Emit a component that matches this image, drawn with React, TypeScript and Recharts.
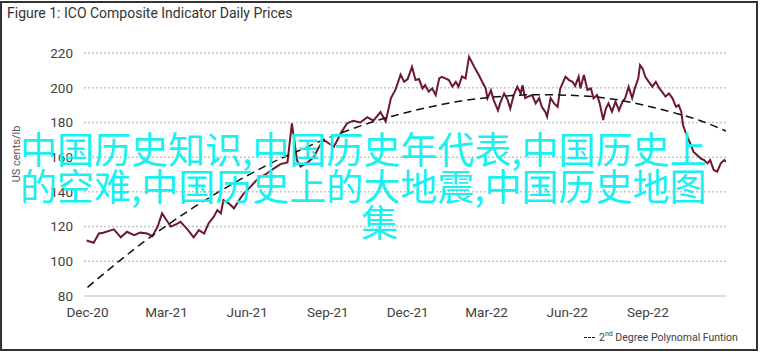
import { LineChart, Line, XAxis, YAxis, CartesianGrid } from 'recharts';

// days counted from 1 Dec 2020
const priceDays = [
  -1, 7, 13, 18, 30, 38, 45, 53, 60, 68, 74, 80, 85, 90, 95, 102, 106, 114, 121, 127,
  133, 138, 144, 148, 152, 155, 161, 167, 173, 178, 186, 195, 203, 211, 220, 228, 233, 239, 243, 251,
  258, 263, 269, 281, 289, 296, 303, 311, 319, 326, 334, 340, 346, 351, 357, 361, 365, 370, 374, 378,
  382, 385, 389, 393, 397, 401, 404, 408, 412, 416, 420, 423, 427, 431, 435, 439, 442, 446, 450, 454,
  456, 460, 463, 468, 471, 475, 479, 482, 486, 490, 494, 496, 499, 503, 507, 511, 515, 518, 522, 524,
  528, 532, 536, 539, 545, 549, 553, 556, 560, 562, 566, 570, 574, 577, 581, 584, 588, 591, 594, 598,
  602, 606, 610, 613, 617, 621, 624, 628, 630, 633, 636, 640, 644, 648, 652, 655, 659, 663, 667, 671,
  674, 677, 679, 683, 688, 691, 695, 699, 703, 707, 710, 714, 718, 722, 726, 728,
];

const prices = [
  112, 110.7, 116, 116.4, 118.4, 113.8, 117, 115, 116.5, 116, 114.5, 120, 127.6, 123.8, 120, 121.5, 122.8, 118.4, 113.8, 118,
  116, 121.8, 125.7, 129.5, 127.6, 135.3, 133.4, 130.5, 135.3, 139, 143, 148, 150, 153, 156, 157, 179.4, 158, 154.5, 157,
  160, 165, 170, 166, 174, 179.5, 181, 180, 183, 181, 186, 180.5, 194, 198.7, 207.5, 203.4, 205, 212, 204.4, 205,
  199.6, 201.5, 197.7, 199.6, 195.8, 205.4, 206.3, 205.4, 204.4, 200.6, 203.4, 200.6, 206.5, 205.4, 217.8, 214, 211, 207.5, 203.4, 199.6,
  193.9, 198.5, 193, 187, 191.8, 196.7, 193, 188, 195.8, 200.6, 196.7, 201.5, 194, 195, 195.8, 191, 194, 189, 186, 183.3,
  194, 191, 189, 199.6, 206.3, 204.4, 203.4, 201, 206.3, 199.6, 207.3, 198.7, 199.6, 193.9, 195.8, 191, 181.4, 188, 191, 186.2,
  192, 187, 192, 193.9, 200.6, 194, 199.6, 205.4, 213, 211, 206.3, 203.4, 200.6, 203.4, 199.6, 197.7, 194.9, 196.7, 193.9, 189,
  190, 186.2, 178.5, 172.7, 167, 163, 161.2, 159.3, 158.3, 156.4, 158.3, 152.6, 151.6, 156.4, 158.3, 157.4,
];

const trendDays = [0, 31, 60, 90, 121, 151, 181, 211, 242, 273, 303, 334, 365, 396, 424, 455, 485, 516, 546, 577, 607, 638, 669, 699, 728];
const trendValues = [85, 98, 109.6, 120.5, 131, 140.4, 149, 157, 164, 170.8, 176.5, 181.7, 185.9, 189.5, 192.2, 194.2, 195.5, 196, 195.7, 194.8, 192.8, 189.5, 185.5, 181, 175];

const tickDays = [0, 90, 182, 274, 365, 455, 547, 639];
const tickLabels = ['Dec-20', 'Mar-21', 'Jun-21', 'Sep-21', 'Dec-21', 'Mar-22', 'Jun-22', 'Sep-22'];
const yTicks = [80, 90, 100, 110, 120, 130, 140, 150, 160, 170, 180, 190, 200, 210, 220];

const priceData = priceDays.map((d, i) => ({ day: d, price: prices[i] }));
const trendData = trendDays.map((d, i) => ({ day: d, trend: trendValues[i] }));

const font = 'Roboto, "Noto Sans", sans-serif';

export default function App() {
  return (
    <div style={{ position: 'absolute', left: 0, top: 0, width: 762, height: 356, background: '#fff', fontFamily: font }}>
      <div style={{ position: 'absolute', left: 0, top: 1, width: 754, height: 346, border: '2px solid #333' }} />
      <div style={{ position: 'absolute', left: 7, top: 5, fontSize: 14, color: '#333' }}>
        Figure 1: ICO Composite Indicator Daily Prices
      </div>
      <LineChart width={762} height={356} margin={{ top: 53, right: 36, bottom: 0, left: 0 }} style={{ position: 'absolute', left: 0, top: 0 }}>
        <CartesianGrid vertical={false} stroke="#c4c4c4" strokeDasharray="2 2" strokeWidth={1.5} />
        <XAxis
          dataKey="day"
          type="number"
          domain={[-4, 728]}
          ticks={tickDays}
          tickFormatter={(v) => tickLabels[tickDays.indexOf(v)]}
          height={60}
          tickLine={false}
          tickMargin={5}
          axisLine={{ stroke: '#d9d9d9', strokeWidth: 1.5 }}
          tick={{ fill: '#404040', fontSize: 13.5, fontFamily: font }}
          allowDataOverflow
        />
        <YAxis
          domain={[80, 220]}
          ticks={yTicks}
          width={84}
          tickLine={false}
          axisLine={false}
          tickMargin={5}
          tick={{ fill: '#404040', fontSize: 13.5, fontFamily: font }}
        />
        <Line data={priceData} dataKey="price" type="linear" stroke="#6e1830" strokeWidth={2} dot={false} isAnimationActive={false} />
        <Line data={trendData} dataKey="trend" type="monotone" stroke="#111" strokeWidth={1.5} strokeDasharray="8 5" dot={false} isAnimationActive={false} />
      </LineChart>
      <div style={{ position: 'absolute', left: 16, top: 154, transform: 'translate(-50%, -50%) rotate(-90deg)', fontSize: 11, color: '#595959', whiteSpace: 'nowrap' }}>
        US cents/lb
      </div>
      <div style={{ position: 'absolute', left: 584, top: 330, fontSize: 10.5, color: '#404040', whiteSpace: 'nowrap' }}>
        <span style={{ display: 'inline-block', width: 11, borderTop: '1.5px dashed #111', verticalAlign: 'middle', marginRight: 4 }} />
        2<sup style={{ fontSize: 7 }}>nd</sup> Degree Polynomal Funtion
      </div>
      <div style={{ position: 'absolute', left: 0, top: 0, width: 762, fontFamily: '"Noto Sans CJK SC", sans-serif', fontSize: 37, lineHeight: '37px', color: '#19f0f0', pointerEvents: 'none' }}>
        <div style={{ position: 'absolute', left: 20, top: 130, whiteSpace: 'nowrap' }}>中国历史知识,中国历史年代表,中国历史上</div>
        <div style={{ position: 'absolute', left: 20, top: 167, whiteSpace: 'nowrap' }}>的空难,中国历史上的大地震,中国历史地图</div>
        <div style={{ position: 'absolute', left: 361, top: 203, whiteSpace: 'nowrap' }}>集</div>
      </div>
    </div>
  );
}
